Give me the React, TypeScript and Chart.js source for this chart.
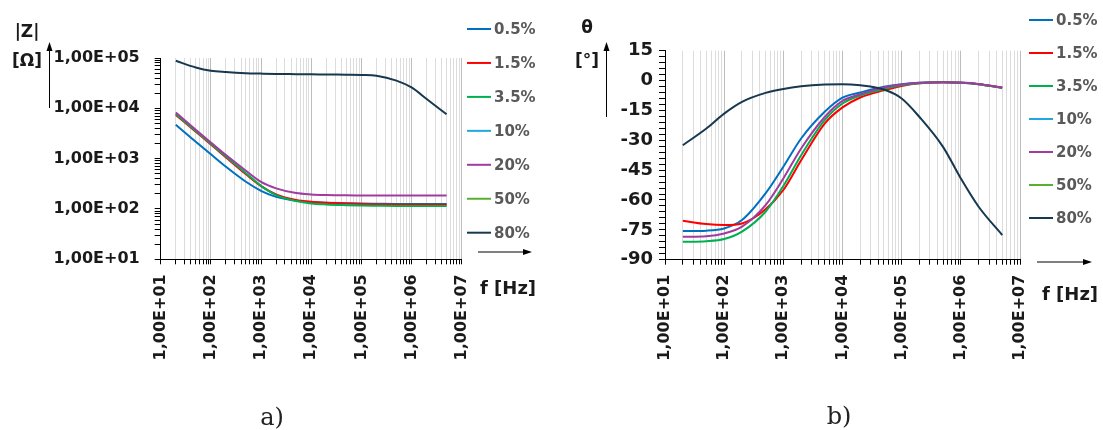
import { useEffect, useRef } from 'react';
import { Chart, registerables } from 'chart.js';

Chart.register(...registerables);

// Measurement frequencies (Hz)
const FREQ_HZ = [20, 50, 100, 200, 500, 1e3, 2e3, 5e3, 1e4, 2e4, 5e4, 1e5, 2e5, 5e5, 1e6, 2e6, 5e6];

const SERIES_LABELS = ['0.5%', '1.5%', '3.5%', '10%', '20%', '50%', '80%'];
const SERIES_COLORS = ['#0070C0', '#FF0000', '#00B050', '#1FA8E0', '#A03CA0', '#58B030', '#17384F'];

// Impedance modulus |Z| (Ω)
const Z_05 = [4700, 2170, 1220, 690, 348, 230, 174, 145, 137, 133, 130, 128, 127, 126, 126, 126, 126];
const Z_15 = [7400, 3430, 1920, 1060, 490, 285, 195, 151, 139, 133, 128, 125, 123, 122, 121, 121, 121];
const Z_35 = [7700, 3550, 1980, 1100, 513, 288, 189, 144, 129, 123, 119, 117, 116, 115, 115, 115, 115];
const Z_10: number[] = [];
const Z_20 = [8300, 3760, 2100, 1180, 575, 345, 257, 207, 195, 190, 187, 186, 185, 185, 185, 185, 185];
const Z_50: number[] = [];
const Z_80 = [88000, 65000, 56000, 52700, 50000, 49000, 48200, 47800, 47500, 47000, 46500, 46000, 44500, 35600, 26000, 15300, 7600];

// Phase angle θ (°)
const PH_05 = [-75.6, -75.4, -74.3, -70.1, -56.7, -43.3, -29.1, -15.7, -8.6, -6.0, -3.1, -1.8, -1.1, -0.9, -1.1, -1.8, -3.6];
const PH_15 = [-70.4, -72.1, -72.6, -71.8, -64.7, -55.0, -40.0, -21.6, -13.5, -8.5, -4.9, -2.7, -1.4, -0.9, -1.1, -1.8, -3.6];
const PH_35 = [-81.0, -80.7, -79.6, -75.9, -65.9, -53.0, -37.5, -19.9, -11.5, -7.5, -4.2, -2.4, -1.3, -0.9, -1.1, -1.8, -3.6];
const PH_10: number[] = [];
const PH_20 = [-78.5, -78.2, -76.8, -73.4, -62.6, -49.2, -34.1, -18.3, -10.2, -6.9, -3.5, -2.0, -1.1, -0.8, -1.0, -1.7, -3.5];
const PH_50: number[] = [];
const PH_80 = [-32.5, -24.1, -16.6, -10.7, -6.2, -4.2, -2.9, -2.0, -1.8, -2.4, -4.5, -9.0, -18.3, -33.3, -49.2, -63.4, -77.6];

// Axis tick labels
const F_TICK_LABELS = ['1,00E+01', '1,00E+02', '1,00E+03', '1,00E+04', '1,00E+05', '1,00E+06', '1,00E+07'];
const Z_TICK_LABELS = ['1,00E+01', '1,00E+02', '1,00E+03', '1,00E+04', '1,00E+05'];
const PH_TICK_LABELS = ['-90', '-75', '-60', '-45', '-30', '-15', '0', '15'];

const FONT = '"DejaVu Sans", Verdana, sans-serif';
const TEXT = '#1a1a1a';
const LEGEND_TEXT = '#595959';

// 1..9 × 10^n tick positions between two powers of ten
function logTicks(min: number, max: number): number[] {
  const out: number[] = [];
  for (let d = min; d < max * 0.999; d *= 10) {
    for (let m = 1; m <= 9; m++) out.push(m * d);
  }
  out.push(max);
  return out;
}

function isDecade(v: number): boolean {
  const e = Math.round(Math.log10(v));
  return Math.abs(v - Math.pow(10, e)) < 1e-6 * v;
}

function decadeLabel(v: number, labels: string[]): string {
  if (!isDecade(v)) return '';
  const e = Math.round(Math.log10(v));
  return labels[e - 1] ?? '';
}

function toSeries(values: number[]) {
  return values.map((y, i) => ({ x: FREQ_HZ[i], y }));
}

function buildDatasets(series: number[][]) {
  return series.map((vals, i) => ({
    label: SERIES_LABELS[i],
    data: toSeries(vals),
    borderColor: SERIES_COLORS[i],
    backgroundColor: SERIES_COLORS[i],
    borderWidth: 2,
    pointRadius: 0,
    cubicInterpolationMode: 'monotone' as const,
    fill: false,
    order: SERIES_LABELS.length - i,
  }));
}

interface Decor {
  yTitle: [string, number, number][];
  yArrow: { x: number; y1: number; y2: number };
  legend: { x1: number; x2: number; tx: number; y0: number; dy: number };
  legendArrow: { x1: number; x2: number; y: number };
  xTitle: { x: number; y: number };
  panel: { text: string; x: number; y: number };
}

function arrow(ctx: CanvasRenderingContext2D, x1: number, y1: number, x2: number, y2: number) {
  const ang = Math.atan2(y2 - y1, x2 - x1);
  const len = 9;
  const hw = 3;
  ctx.save();
  ctx.strokeStyle = '#000';
  ctx.fillStyle = '#000';
  ctx.lineWidth = 1;
  ctx.beginPath();
  ctx.moveTo(x1, y1);
  ctx.lineTo(x2 - Math.cos(ang) * len * 0.8, y2 - Math.sin(ang) * len * 0.8);
  ctx.stroke();
  ctx.beginPath();
  ctx.moveTo(x2, y2);
  ctx.lineTo(x2 - Math.cos(ang) * len - Math.sin(ang) * hw, y2 - Math.sin(ang) * len + Math.cos(ang) * hw);
  ctx.lineTo(x2 - Math.cos(ang) * len + Math.sin(ang) * hw, y2 - Math.sin(ang) * len - Math.cos(ang) * hw);
  ctx.closePath();
  ctx.fill();
  ctx.restore();
}

function decorPlugin(d: Decor) {
  return {
    id: 'decor',
    afterDraw(chart: Chart) {
      const ctx = chart.ctx;
      ctx.save();
      // axis title and arrow
      ctx.fillStyle = TEXT;
      ctx.font = `bold 17px ${FONT}`;
      ctx.textAlign = 'center';
      ctx.textBaseline = 'middle';
      for (const [t, x, y] of d.yTitle) ctx.fillText(t, x, y);
      arrow(ctx, d.yArrow.x, d.yArrow.y1, d.yArrow.x, d.yArrow.y2);

      // legend
      ctx.font = `bold 15px ${FONT}`;
      ctx.textAlign = 'left';
      chart.data.datasets.forEach((ds, i) => {
        const y = d.legend.y0 + i * d.legend.dy;
        ctx.strokeStyle = ds.borderColor as string;
        ctx.lineWidth = 2;
        ctx.beginPath();
        ctx.moveTo(d.legend.x1, y);
        ctx.lineTo(d.legend.x2, y);
        ctx.stroke();
        ctx.fillStyle = LEGEND_TEXT;
        ctx.fillText(ds.label as string, d.legend.tx, y + 1);
      });
      arrow(ctx, d.legendArrow.x1, d.legendArrow.y, d.legendArrow.x2, d.legendArrow.y);

      // frequency axis title
      ctx.fillStyle = TEXT;
      ctx.font = `bold 18px ${FONT}`;
      ctx.textAlign = 'left';
      ctx.fillText('f [Hz]', d.xTitle.x, d.xTitle.y);

      // panel letter
      ctx.font = `24px "DejaVu Serif", "Liberation Serif", serif`;
      ctx.textAlign = 'center';
      ctx.fillStyle = '#222';
      ctx.fillText(d.panel.text, d.panel.x, d.panel.y);
      ctx.restore();
    },
  };
}

const xGridColor = (c: any) => (c.tick && isDecade(c.tick.value) ? '#bdbdbd' : '#dcdcdc');

function freqAxis(height: number) {
  return {
    type: 'logarithmic' as const,
    min: 10,
    max: 1e7,
    afterBuildTicks: (s: any) => {
      s.ticks = logTicks(10, 1e7).map((v) => ({ value: v }));
    },
    afterFit: (s: any) => {
      s.height = height;
      s.paddingLeft = 0;
      s.paddingRight = 0;
    },
    ticks: {
      autoSkip: false,
      minRotation: 90,
      maxRotation: 90,
      padding: 10,
      color: TEXT,
      font: { family: FONT, size: 16, weight: 'bold' as const },
      callback: (v: any) => decadeLabel(Number(v), F_TICK_LABELS),
    },
    grid: {
      color: xGridColor,
      lineWidth: 1,
      tickColor: '#000',
      tickLength: 5,
    },
    border: { color: '#000', width: 1 },
  };
}

function ImpedanceChart() {
  const ref = useRef<HTMLCanvasElement>(null);
  useEffect(() => {
    if (!ref.current) return;
    const chart = new Chart(ref.current, {
      type: 'line',
      data: { datasets: buildDatasets([Z_05, Z_15, Z_35, Z_10, Z_20, Z_50, Z_80]) as any },
      options: {
        responsive: false,
        animation: false,
        layout: { padding: { left: 20.7, top: 58, right: 89.3, bottom: 70.7 } },
        plugins: { legend: { display: false }, tooltip: { enabled: false } },
        scales: {
          x: freqAxis(100) as any,
          y: {
            type: 'logarithmic',
            min: 10,
            max: 1e5,
            afterBuildTicks: (s: any) => {
              s.ticks = logTicks(10, 1e5).map((v) => ({ value: v }));
            },
            afterFit: (s: any) => {
              s.width = 140;
              s.paddingTop = 0;
              s.paddingBottom = 0;
            },
            ticks: {
              autoSkip: false,
              padding: 15,
              color: TEXT,
              font: { family: FONT, size: 16, weight: 'bold' },
              callback: (v: any) => decadeLabel(Number(v), Z_TICK_LABELS),
            },
            grid: { drawOnChartArea: false, tickColor: '#000', tickLength: 6 },
            border: { color: '#000', width: 1 },
          } as any,
        },
      },
      plugins: [
        decorPlugin({
          yTitle: [['|Z|', 27, 33], ['[Ω]', 27, 62]],
          yArrow: { x: 49.5, y1: 108, y2: 42 },
          legend: { x1: 467, x2: 491, tx: 494, y0: 29, dy: 33.95 },
          legendArrow: { x1: 478, x2: 532, y: 252 },
          xTitle: { x: 480, y: 289 },
          panel: { text: 'a)', x: 272, y: 419 },
        }),
      ],
    });
    return () => chart.destroy();
  }, []);
  return <canvas ref={ref} width={551} height={430} style={{ position: 'absolute', left: 0, top: 0 }} />;
}

function PhaseChart() {
  const ref = useRef<HTMLCanvasElement>(null);
  useEffect(() => {
    if (!ref.current) return;
    const chart = new Chart(ref.current, {
      type: 'line',
      data: { datasets: buildDatasets([PH_05, PH_15, PH_35, PH_10, PH_20, PH_50, PH_80]) as any },
      options: {
        responsive: false,
        animation: false,
        layout: { padding: { left: 24, top: 50.7, right: 83, bottom: 70.3 } },
        plugins: { legend: { display: false }, tooltip: { enabled: false } },
        scales: {
          x: freqAxis(100) as any,
          y: {
            type: 'linear',
            min: -90,
            max: 15,
            afterFit: (s: any) => {
              s.width = 90;
              s.paddingTop = 0;
              s.paddingBottom = 0;
            },
            ticks: {
              autoSkip: false,
              stepSize: 3,
              padding: 6,
              color: TEXT,
              font: { family: FONT, size: 18, weight: 'bold' },
              callback: (v: any) => {
                const n = Math.round(Number(v));
                return n % 15 === 0 ? PH_TICK_LABELS[(n + 90) / 15] : '';
              },
            },
            grid: { drawOnChartArea: false, tickColor: '#000', tickLength: 6 },
            border: { color: '#000', width: 1 },
          } as any,
        },
      },
      plugins: [
        decorPlugin({
          yTitle: [['θ', 36, 29], ['[°]', 36, 62]],
          yArrow: { x: 55.5, y1: 117, y2: 42 },
          legend: { x1: 478, x2: 502, tx: 505, y0: 20, dy: 33 },
          legendArrow: { x1: 486, x2: 541, y: 262 },
          xTitle: { x: 491, y: 295 },
          panel: { text: 'b)', x: 288, y: 418 },
        }),
      ],
    });
    return () => chart.destroy();
  }, []);
  return <canvas ref={ref} width={552} height={430} style={{ position: 'absolute', left: 551, top: 0 }} />;
}

export default function App() {
  return (
    <div style={{ position: 'fixed', left: 0, top: 0, width: 1103, height: 430, background: '#fff', overflow: 'hidden' }}>
      <ImpedanceChart />
      <PhaseChart />
    </div>
  );
}
